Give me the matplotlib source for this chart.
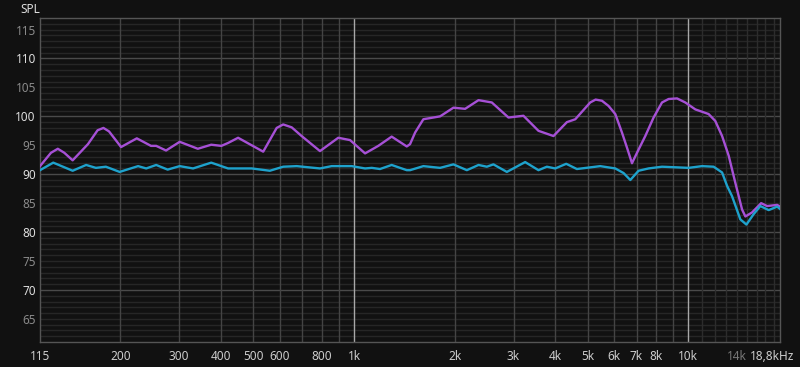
import numpy as np
import matplotlib
matplotlib.use("Agg")
import matplotlib.pyplot as plt
import matplotlib.transforms as mtransforms

plt.rcParams['font.family'] = ['Noto Sans', 'DejaVu Sans']

# purple trace (Hz, dB SPL)
purple_f = [115, 124, 130, 136, 144, 160, 171, 178, 185, 201, 224, 247, 256, 274, 301,
            341, 374, 401, 420, 450, 535, 587, 614, 651, 697, 791, 897, 973, 1079,
            1182, 1296, 1438, 1471, 1523, 1612, 1809, 1983, 2149, 2357, 2583, 2897,
            3212, 3562, 3950, 4332, 4590, 5087, 5280, 5515, 5772, 6046, 6331, 6553,
            6783, 7020, 7434, 7871, 8341, 8729, 9250, 9792, 10495, 11500, 12040,
            12617, 13204, 13823, 14479, 14812, 15512, 16510, 17207, 18435, 18800]
purple_db = [91.4, 93.7, 94.4, 93.7, 92.4, 95.2, 97.6, 98.0, 97.4, 94.7, 96.2, 94.9,
             94.9, 94.1, 95.6, 94.4, 95.1, 94.9, 95.4, 96.3, 93.9, 98.0, 98.6, 98.1,
             96.6, 94.0, 96.3, 95.9, 93.6, 94.9, 96.5, 94.8, 95.2, 97.2, 99.5, 100.0,
             101.5, 101.3, 102.8, 102.4, 99.8, 100.1, 97.5, 96.6, 99.0, 99.5, 102.4,
             102.9, 102.7, 101.8, 100.4, 97.2, 94.6, 91.9, 93.7, 96.6, 99.8, 102.4,
             103.0, 103.1, 102.4, 101.2, 100.4, 99.2, 96.6, 93.2, 88.5, 83.9, 82.7,
             83.4, 85.0, 84.5, 84.7, 84.4]

# cyan trace (Hz, dB SPL)
cyan_f = [115, 126, 144, 158, 169, 181, 199, 226, 239, 256, 277, 301, 330, 374, 420,
          494, 560, 614, 674, 791, 857, 984, 1079, 1130, 1196, 1296, 1438, 1471,
          1612, 1809, 1983, 2175, 2357, 2496, 2612, 2865, 3250, 3562, 3774, 3997,
          4313, 4641, 5450, 6046, 6402, 6705, 7098, 7605, 8341, 10020, 10988, 11904,
          12617, 13055, 13513, 14306, 14916, 15679, 16420, 17390, 18435, 18800]
cyan_db = [90.7, 92.0, 90.6, 91.6, 91.1, 91.3, 90.4, 91.4, 91.0, 91.6, 90.8, 91.4,
           91.0, 92.0, 91.0, 91.0, 90.6, 91.3, 91.4, 91.0, 91.4, 91.4, 91.0, 91.1,
           90.9, 91.6, 90.7, 90.7, 91.4, 91.1, 91.7, 90.7, 91.6, 91.3, 91.7, 90.4,
           92.1, 90.7, 91.3, 91.0, 91.8, 90.9, 91.4, 91.0, 90.2, 89.0, 90.6, 91.0,
           91.3, 91.1, 91.4, 91.3, 90.3, 88.0, 86.2, 82.2, 81.3, 83.1, 84.5, 83.8,
           84.4, 84.0]

xtick_vals = [115, 200, 300, 400, 500, 600, 800, 1000, 2000, 3000, 4000, 5000,
              6000, 7000, 8000, 10000, 14000, 18800]
xtick_labels = ['115', '200', '300', '400', '500', '600', '800', '1k', '2k', '3k',
                '4k', '5k', '6k', '7k', '8k', '10k', '14k', '18,8kHz']
ytick_vals = [65, 70, 75, 80, 85, 90, 95, 100, 105, 110, 115]

bg = '#111111'
fig = plt.figure(figsize=(8, 3.67), dpi=100, facecolor=bg)
ax = fig.add_axes([0.05, 0.068, 0.925, 0.883], facecolor=bg)
ax.set_xscale('log')
ax.set_xlim(115, 18800)
ax.set_ylim(61, 117)

# horizontal grid, 1 dB steps, brighter every 10 dB
for v in range(62, 117):
    c = '#4a4a4a' if v % 10 == 0 else '#262626'
    ax.axhline(v, color=c, lw=1.0, zorder=1)

# vertical grid
vlines = list(range(200, 1000, 100)) + list(range(2000, 10000, 1000))
for f in vlines:
    ax.axvline(f, color='#444444', lw=1.0, zorder=1)
for f in range(11000, 19000, 1000):
    ax.axvline(f, color='#2c2c2c', lw=1.0, zorder=1)
for f in (1000, 10000):
    ax.axvline(f, color='#a8a8a8', lw=1.0, zorder=1)

ax.plot(purple_f, purple_db, color='#a650d6', lw=1.7, solid_joinstyle='round', zorder=3)
ax.plot(cyan_f, cyan_db, color='#1ea2cc', lw=1.7, solid_joinstyle='round', zorder=4)

for s in ax.spines.values():
    s.set_color('#555555')
    s.set_linewidth(1.0)

ax.set_xticks(xtick_vals, xtick_labels)
ax.xaxis.set_minor_locator(matplotlib.ticker.NullLocator())
ax.set_yticks(ytick_vals)
ax.tick_params(length=0, pad=6, labelsize=8.5)
ax.tick_params(axis='y', pad=3)
for lab in ax.get_xticklabels():
    lab.set_color('#777777' if lab.get_text() == '14k' else '#cccccc')
last = ax.get_xticklabels()[-1]
last.set_transform(last.get_transform() + mtransforms.Affine2D().translate(-8, 0))
for lab, v in zip(ax.get_yticklabels(), ytick_vals):
    lab.set_color('#dddddd' if v % 10 == 0 else '#8a8a8a')

fig.text(0.025, 0.975, 'SPL', color='#dddddd', fontsize=8.5, va='center', ha='left')

fig.savefig('out.png', dpi=100, facecolor=bg)
